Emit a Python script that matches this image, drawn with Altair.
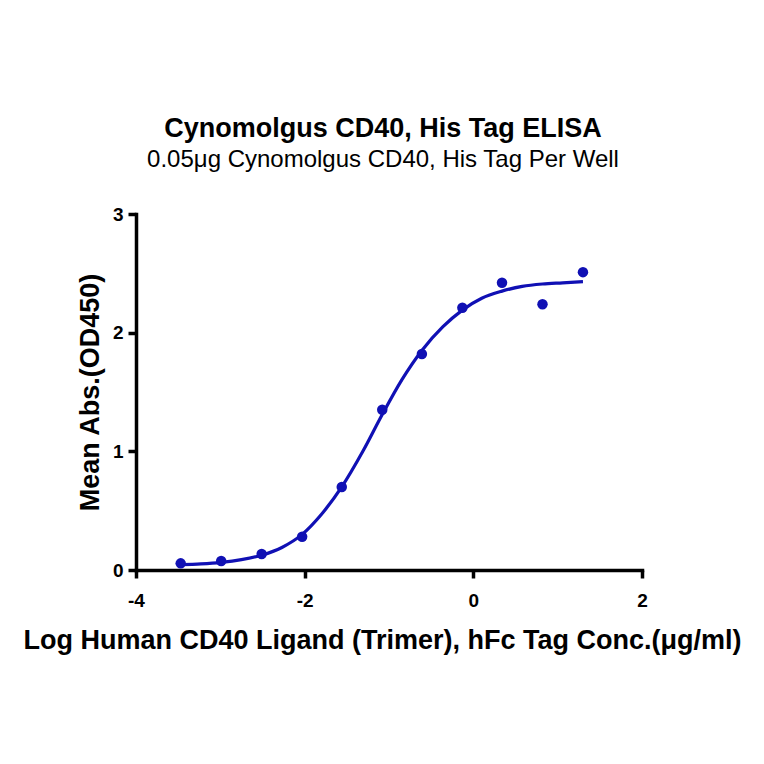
import altair as alt
import pandas as pd

# Measured points (log10 concentration, mean OD450)
log_conc = [-3.47, -2.99, -2.51, -2.03, -1.56, -1.08, -0.61, -0.13, 0.34, 0.82, 1.30]
mean_abs = [0.056, 0.076, 0.135, 0.28, 0.70, 1.35, 1.82, 2.21, 2.42, 2.24, 2.51]

# Fitted curve
curve_x = [-3.47, -3.23, -2.99, -2.75, -2.51, -2.27, -2.03, -1.80, -1.56, -1.31,
           -1.08, -0.85, -0.61, -0.36, -0.13, 0.10, 0.34, 0.58, 0.82, 1.06, 1.30]
curve_y = [0.045, 0.052, 0.065, 0.088, 0.125, 0.19, 0.30, 0.47, 0.70, 1.00,
           1.31, 1.60, 1.85, 2.05, 2.19, 2.29, 2.35, 2.39, 2.41, 2.42, 2.43]

x_ticks = [-4, -2, 0, 2]
y_ticks = [0, 1, 2, 3]

BLUE = "#1010b4"
FONT = "Liberation Sans"

pts = pd.DataFrame({"x": log_conc, "y": mean_abs})
crv = pd.DataFrame({"x": curve_x, "y": curve_y})

xscale = alt.Scale(domain=[-4, 2], nice=False, zero=False)
yscale = alt.Scale(domain=[0, 3], nice=False)

xaxis = alt.Axis(values=x_ticks, labelExpr="toString(datum.value)",
                 title="Log Human CD40 Ligand (Trimer), hFc Tag Conc.(μg/ml)",
                 labelPadding=13, titlePadding=17, labelFlush=False, titleX=246)
yaxis = alt.Axis(values=y_ticks, labelExpr="toString(datum.value)", title="Mean Abs.(OD450)",
                 labelPadding=5, titlePadding=8, labelFlush=False)

line = alt.Chart(crv).mark_line(color=BLUE, strokeWidth=3.2, interpolate="monotone").encode(
    x=alt.X("x:Q", scale=xscale, axis=xaxis),
    y=alt.Y("y:Q", scale=yscale, axis=yaxis),
)
dots = alt.Chart(pts).mark_point(filled=True, color=BLUE, size=110, opacity=1).encode(
    x=alt.X("x:Q", scale=xscale),
    y=alt.Y("y:Q", scale=yscale),
)

chart = alt.layer(line, dots).properties(
    width=506,
    height=356,
    title=alt.TitleParams(
        text="Cynomolgus CD40, His Tag ELISA",
        subtitle="0.05μg Cynomolgus CD40, His Tag Per Well",
        font=FONT, fontSize=27, fontWeight="bold", color="black",
        subtitleFont=FONT, subtitleFontSize=24, subtitleColor="black",
        subtitlePadding=5, anchor="middle", frame="group", offset=32, dx=-6,
    ),
    autosize=alt.AutoSizeParams(type="none"),
    padding={"left": 128, "top": 206, "right": 110, "bottom": 170},
).configure_view(stroke=None).configure_axis(
    grid=False,
    domainColor="black", domainWidth=3.5, domainCap="square",
    tickColor="black", tickWidth=3.5, tickSize=8,
    labelFont=FONT, labelFontSize=19, labelFontWeight="bold", labelColor="black",
    titleFont=FONT, titleFontSize=27, titleFontWeight="bold", titleColor="black",
)

chart.save("out.html", embed_options={"renderer": "svg", "actions": False})
